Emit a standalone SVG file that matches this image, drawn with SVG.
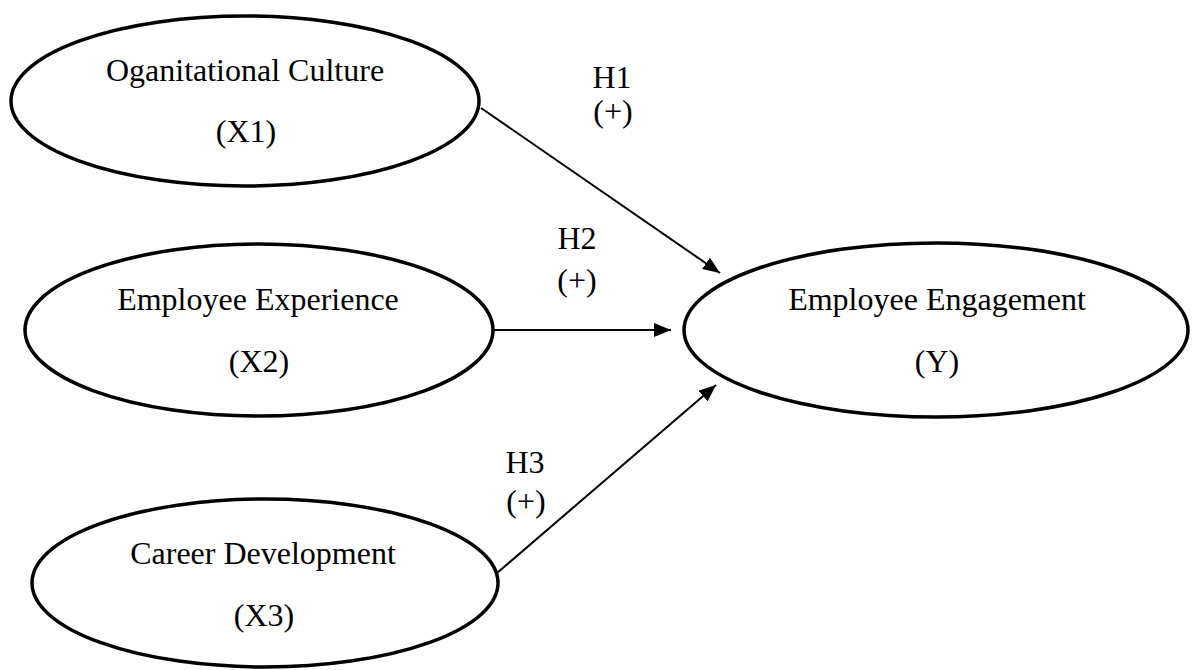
<svg xmlns="http://www.w3.org/2000/svg" width="1192" height="670" viewBox="0 0 1192 670">
  <style>
    .node { fill: #ffffff; stroke: #000000; stroke-width: 3.5; }
    .lbl { font-family: "Liberation Serif", "Times New Roman", serif; font-size: 32px; fill: #000000; text-anchor: middle; }
    .edge { stroke: #000000; stroke-width: 2; fill: none; marker-end: url(#arrow); }
  </style>
  <defs>
    <marker id="arrow" markerUnits="userSpaceOnUse" markerWidth="18" markerHeight="14" refX="17" refY="7" orient="auto">
      <path d="M0,0 L17,7 L0,14 Z" fill="#000000"/>
    </marker>
  </defs>
  <rect x="0" y="0" width="1192" height="670" fill="#ffffff"/>

  <!-- hypothesised paths -->
  <g id="connectors">
    <line class="edge" x1="481" y1="108" x2="720" y2="273"/>
    <line class="edge" x1="494" y1="330" x2="671" y2="330"/>
    <line class="edge" x1="497" y1="573" x2="716" y2="385"/>
    <text class="lbl" x="612" y="88">H1</text>
    <text class="lbl" x="613" y="122">(+)</text>
    <text class="lbl" x="577" y="249">H2</text>
    <text class="lbl" x="577" y="291">(+)</text>
    <text class="lbl" x="525" y="473">H3</text>
    <text class="lbl" x="526" y="512">(+)</text>
  </g>

  <g id="x1">
    <ellipse class="node" cx="245" cy="101" rx="234" ry="85"/>
    <text class="lbl" x="245" y="81">Oganitational Culture</text>
    <text class="lbl" x="246" y="142">(X1)</text>
  </g>

  <g id="x2">
    <ellipse class="node" cx="259" cy="330" rx="234" ry="86"/>
    <text class="lbl" x="258" y="310">Employee Experience</text>
    <text class="lbl" x="259" y="372">(X2)</text>
  </g>

  <g id="x3">
    <ellipse class="node" cx="265" cy="583" rx="233" ry="84"/>
    <text class="lbl" x="263" y="564">Career Development</text>
    <text class="lbl" x="264" y="626">(X3)</text>
  </g>

  <g id="y">
    <ellipse class="node" cx="936" cy="330" rx="252" ry="87"/>
    <text class="lbl" x="937" y="310">Employee Engagement</text>
    <text class="lbl" x="937" y="372">(Y)</text>
  </g>
</svg>
